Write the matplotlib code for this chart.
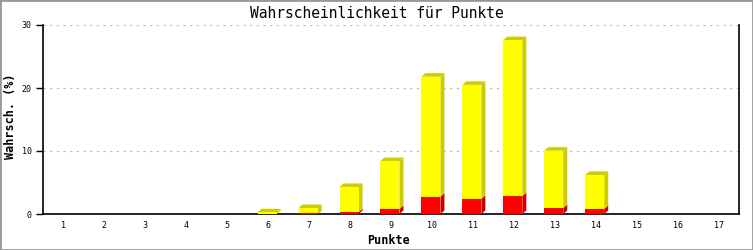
import matplotlib
matplotlib.use("Agg")
import matplotlib.pyplot as plt
from matplotlib.patches import Polygon, Rectangle
import numpy as np

# Daten: Punkte und Wahrscheinlichkeiten (%)
punkte = list(range(1, 18))
gesamt = [0, 0, 0, 0, 0, 0.27, 0.95, 4.3, 8.4, 21.8, 20.5, 27.6, 10.05, 6.2, 0, 0, 0]
rot = [0, 0, 0, 0, 0, 0, 0.08, 0.3, 0.8, 2.75, 2.4, 2.85, 0.95, 0.8, 0, 0, 0]
gelb = [g - r for g, r in zip(gesamt, rot)]
y_ticks = [0, 10, 20, 30]

plt.rcParams['font.family'] = ['DejaVu Sans Mono']

fig = plt.figure(figsize=(7.53, 2.5), dpi=100)
ax = fig.add_axes([43 / 753, 36 / 250, 696 / 753, 189 / 250])
ax.set_xlim(0.5, 17.5)
ax.set_ylim(0, 30)

# 3D-Versatz in Pixeln -> Dateneinheiten
px_x = (17.5 - 0.5) / 696
px_y = 30 / 189
dx, dy = 4 * px_x, 3.5 * px_y
breite = 19 * px_x


def balken(x, unten, hoehe, farbe, dunkel, deckel=True):
    if hoehe <= 0:
        return
    x0 = x - breite / 2 - 1 * px_x
    x1 = x0 + breite
    oben = unten + hoehe
    seite = [(x1, unten), (x1 + dx, unten + dy), (x1 + dx, oben + dy), (x1, oben)]
    ax.add_patch(Polygon(seite, closed=True, facecolor=dunkel, edgecolor='none', zorder=3))
    if deckel:
        top = [(x0, oben), (x0 + dx, oben + dy), (x1 + dx, oben + dy), (x1, oben)]
        ax.add_patch(Polygon(top, closed=True, facecolor=dunkel, edgecolor='none', zorder=3))
    ax.add_patch(Rectangle((x0, unten), breite, hoehe, facecolor=farbe, edgecolor='none', zorder=4))


for p, r, g in zip(punkte, rot, gelb):
    balken(p, 0, r, '#ff0000', '#cc0000', deckel=(g <= 0))
    balken(p, r, g, '#ffff00', '#cccc00')

ax.set_xticks(punkte)
ax.set_xticklabels([str(p) for p in punkte], fontsize=6)
ax.set_yticks(y_ticks)
ax.set_yticklabels([str(t) for t in y_ticks], fontsize=6)
ax.tick_params(axis='x', length=0, pad=5)
ax.tick_params(axis='y', length=5, width=1, direction='out', pad=3)

ax.yaxis.grid(True, linestyle=(0, (2, 4)), color='#bbbbbb', linewidth=0.8)
ax.set_axisbelow(True)
ax.spines['top'].set_visible(False)
for s in ['left', 'right', 'bottom']:
    ax.spines[s].set_linewidth(1.2)
    ax.spines[s].set_color('black')

fig.text(0.5, 1 - 13 / 250, 'Wahrscheinlichkeit für Punkte', ha='center', va='center',
         fontsize=10.5)
fig.text(389 / 753, 1 - 240 / 250, 'Punkte', ha='center', va='center',
         fontsize=8.5, fontweight='bold')
fig.text(11 / 753, 1 - 116 / 250, 'Wahrsch. (%)', ha='center', va='center',
         rotation=90, fontsize=8.5, fontweight='bold')

fig.patches.append(Rectangle((0, 0), 1, 1, transform=fig.transFigure, fill=False,
                             edgecolor='#999999', linewidth=2))

fig.savefig('out.png', dpi=100)
